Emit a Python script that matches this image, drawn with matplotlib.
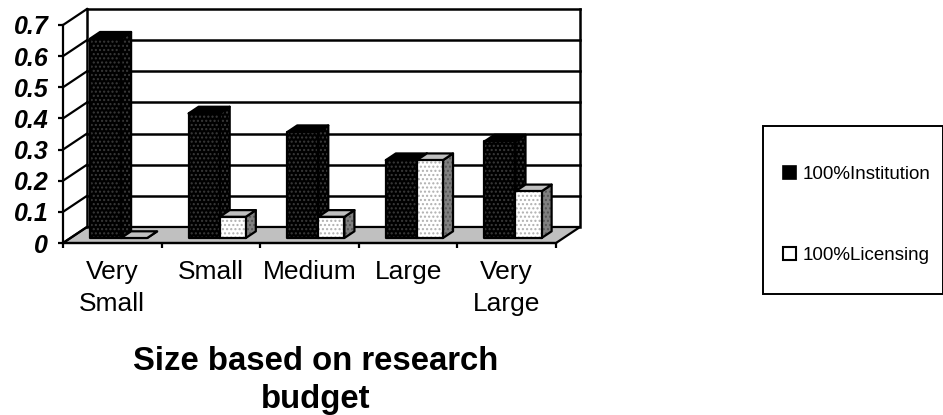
import matplotlib
matplotlib.use("Agg")
import matplotlib.pyplot as plt
from matplotlib.patches import Polygon, Patch, Rectangle

plt.rcParams['font.family'] = ['Liberation Sans', 'DejaVu Sans']

categories = ["Very\nSmall", "Small", "Medium", "Large", "Very\nLarge"]
institution = [0.64, 0.40, 0.34, 0.25, 0.31]
licensing = [0.0, 0.068, 0.068, 0.25, 0.15]
y_ticks = [0, 0.1, 0.2, 0.3, 0.4, 0.5, 0.6, 0.7]
series_names = ["100%Institution", "100%Licensing"]

# fake 3d depth, in data units
depth_x = 24 / 98.6
depth_y = 16 / 311
bar_start = 0.31
bar_depth = 0.42
inst_offset = 0.198
inst_width = 0.315
lic_width = 0.265


def shift(x, y, d):
    return x + depth_x * d, y + depth_y * d


def face(ax, pts, color, dots=None, z=3, lw=1.6):
    if dots:
        ax.add_patch(Polygon(pts, closed=True, facecolor=color, edgecolor=dots, hatch='....', lw=0, zorder=z, clip_on=False))
    else:
        ax.add_patch(Polygon(pts, closed=True, facecolor=color, edgecolor='none', zorder=z, clip_on=False))
    ax.add_patch(Polygon(pts, closed=True, fill=False, edgecolor='black', lw=lw, zorder=z, clip_on=False, joinstyle='round'))


def bar3d(ax, x, w, h, front, front_dots, top, side, side_dots, z):
    x0, y0 = shift(x, 0, bar_start)
    d = bar_depth
    sx, sy = depth_x * d, depth_y * d
    # side, top, then front
    face(ax, [(x0 + w, y0), (x0 + w + sx, y0 + sy), (x0 + w + sx, y0 + h + sy), (x0 + w, y0 + h)], side, side_dots, z)
    face(ax, [(x0, y0 + h), (x0 + sx, y0 + h + sy), (x0 + w + sx, y0 + h + sy), (x0 + w, y0 + h)], top, None, z)
    if h > 0:
        face(ax, [(x0, y0), (x0 + w, y0), (x0 + w, y0 + h), (x0, y0 + h)], front, front_dots, z)


fig = plt.figure(figsize=(9.43, 4.15), dpi=100)
ax = fig.add_axes([63 / 943, 1 - 243 / 415, 493 / 943, 218 / 415])
n = len(categories)
ax.set_xlim(0, n)
ax.set_ylim(0, 0.7)
ax.set_facecolor('none')

# floor
ax.add_patch(Polygon([(0, 0), (n, 0), shift(n, 0, 1), shift(0, 0, 1)], closed=True, facecolor='#c0c0c0',
                     edgecolor='black', lw=1.6, zorder=1, clip_on=False))

# back wall and gridlines
for v in y_ticks[1:]:
    bx0, by = shift(0, v, 1)
    bx1, _ = shift(n, v, 1)
    ax.plot([bx0, bx1], [by, by], color='black', lw=1.8, zorder=2, clip_on=False)
    ax.plot([0, bx0], [v, by], color='black', lw=1.6, zorder=2, clip_on=False)
ax.plot([0, shift(0, 0, 1)[0]], [0, shift(0, 0, 1)[1]], color='black', lw=1.6, zorder=2, clip_on=False)
for xw in [0, n]:
    ax.plot([shift(xw, 0, 1)[0]] * 2, [shift(0, 0, 1)[1], shift(0, 0.7, 1)[1]], color='black', lw=1.8, zorder=2, clip_on=False)

for i in range(n):
    z = 3 + i
    bar3d(ax, i + inst_offset, inst_width, institution[i], 'black', '#3a3a3a', 'black', 'black', '#3a3a3a', z)
    bar3d(ax, i + inst_offset + inst_width, lic_width, licensing[i], 'white', '#b0b0b0', '#c0c0c0', '#808080', '#555555', z + 0.5)

ax.spines['top'].set_visible(False)
ax.spines['right'].set_visible(False)
ax.spines['left'].set_linewidth(1.6)
ax.spines['bottom'].set_linewidth(1.6)

ax.set_yticks(y_ticks)
ax.set_yticklabels([f"{v:g}" for v in y_ticks], fontsize=18, fontweight='bold', fontstyle='italic')
ax.tick_params(axis='y', length=3.6, width=1.6, pad=7)
ax.set_xticks(range(n + 1))
ax.set_xticklabels([])
ax.tick_params(axis='x', which='major', length=3.6, width=1.6, direction='out')
ax.set_xticks([i + 0.5 for i in range(n)], minor=True)
ax.set_xticklabels(categories, minor=True, fontsize=19, linespacing=1.42)
ax.tick_params(axis='x', which='minor', length=0, pad=12)

fig.text(316 / 943, 1 - 361 / 415, "Size based on research", fontsize=23.7, fontweight='bold', ha='center', va='center')
fig.text(316 / 943, 1 - 399 / 415, "budget", fontsize=23.7, fontweight='bold', ha='center', va='center')

# legend box runs off the right edge in the original
fig.add_artist(Rectangle((763 / 943, 1 - 294 / 415), 179.5 / 943, 168 / 415, transform=fig.transFigure,
                         facecolor='white', edgecolor='black', lw=1.4))
handles = [Patch(facecolor='black', edgecolor='black', hatch='....', lw=1.2),
           Patch(facecolor='white', edgecolor='black', lw=1.5)]
leg = fig.legend(handles, series_names, loc='upper left', bbox_to_anchor=(783 / 943, 1 - 166 / 415),
                 fontsize=13.5, frameon=False, handlelength=0.7, handleheight=0.7, handletextpad=0.33,
                 labelspacing=3.4, borderpad=0, borderaxespad=0)
leg.set_zorder(5)

fig.savefig("out.png", dpi=100)
